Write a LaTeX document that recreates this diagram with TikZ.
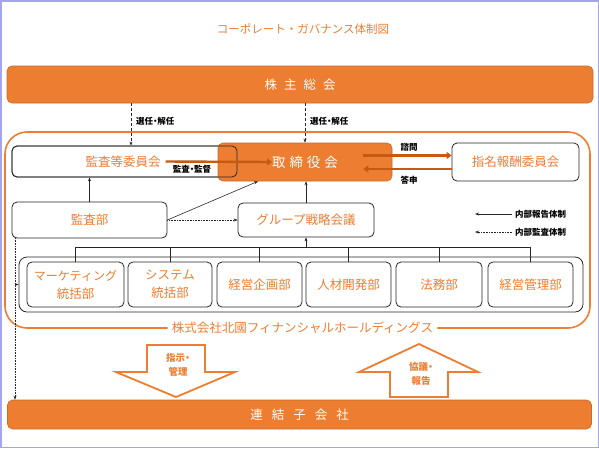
\documentclass[tikz,border=0pt]{standalone}
\usepackage{fontspec}
\newfontfamily\jp{Noto Sans CJK JP}
\newfontfamily\jpp[RawFeature=+palt]{Noto Sans CJK JP}
\usetikzlibrary{arrows.meta,calc}
\definecolor{og}{HTML}{ED7D31}
\definecolor{dog}{HTML}{C55A11}
\definecolor{frm}{RGB}{165,165,235}
\tikzset{
  wbox/.style={draw=black!85,line width=0.8pt,rounded corners=5pt,fill=white,text=og,
    font=\jp\fontsize{12.5}{18}\selectfont,inner sep=0pt,align=center},
  obar/.style={fill=og,draw=og!85!black,line width=0.6pt,rounded corners=5pt,text=white,inner sep=0pt},
  sml/.style={font=\jpp\bfseries\fontsize{8.5}{10}\selectfont,text=black,inner sep=0pt},
  rep/.style={draw=black!85,line width=0.6pt,-{Stealth[length=4pt,width=3pt]}},
  aud/.style={draw=black!85,line width=0.6pt,densely dotted,-{Stealth[length=4pt,width=3pt]}},
  sel/.style={draw=black!85,line width=0.6pt,densely dashed,-{Stealth[length=4pt,width=3pt]}},
  thk/.style={draw=dog,line width=2.4pt,-{Triangle[length=5pt,width=7pt]}},
  bigarr/.style={draw=og,line width=1.8pt,fill=white,line join=miter},
  btxt/.style={font=\jpp\bfseries\fontsize{9.5}{14}\selectfont,text=og,align=center,inner sep=0pt}
}
\begin{document}
\begin{tikzpicture}[x=1pt,y=-1pt]
\useasboundingbox (0,0) rectangle (599,448);
\draw[frm,line width=1.5pt] (0.75,0.75) rectangle (598.25,447.25);

\node[text=og,font=\jp\fontsize{11.5}{14}\selectfont] (title) at (303,29) {コーポレート・ガバナンス体制図};

\node[obar,minimum width=586pt,minimum height=37pt,font=\jp\fontsize{12.5}{15}\selectfont] (kabu) at (300,84.5)
  {株\hspace{7pt}主\hspace{7pt}総\hspace{7pt}会};

% holdings frame
\node[text=og,font=\jp\fontsize{12.5}{15}\selectfont,inner sep=4pt] (hd) at (302.5,328) {株式会社北國フィナンシャルホールディングス};
\draw[og,line width=1.6pt,rounded corners=22pt] (hd.west) -- (5,328) -- (5,132) -- (590,132) -- (590,328) -- (hd.east);

% board level
\node[wbox,minimum width=225pt,minimum height=31pt] (kiin) at (124.5,161.5) {};
\node[obar,minimum width=174pt,minimum height=38pt,font=\jp\fontsize{13.5}{15}\selectfont] (tori) at (305,162)
  {取\hspace{4pt}締\hspace{4pt}役\hspace{4pt}会};
\node[wbox,fill=none,minimum width=225pt,minimum height=31pt] (kiin2) at (124.5,161.5) {};
\node[text=og,font=\jp\fontsize{12.5}{15}\selectfont,inner sep=0pt] (kiintxt) at (123,161.5) {監査等委員会};
\node[wbox,minimum width=127pt,minimum height=38pt] (shimei) at (515.5,162) {指名報酬委員会};

\node[wbox,minimum width=155pt,minimum height=36pt] (kbu) at (89.5,220) {監査部};
\node[wbox,minimum width=136pt,minimum height=34pt] (grp) at (306,220) {グループ戦略会議};

% departments
\node[draw=black!85,line width=0.8pt,rounded corners=8pt,minimum width=564pt,minimum height=55pt,inner sep=0pt] (cont) at (301,284.5) {};
\node[wbox,minimum width=97pt,minimum height=45pt] (d1) at (75.5,284.5) {{\fontsize{12}{18}\selectfont マーケティング}\\統括部};
\node[wbox,minimum width=84pt,minimum height=45pt] (d2) at (170,284.5) {システム\\統括部};
\node[wbox,minimum width=85pt,minimum height=45pt] (d3) at (259.5,284.5) {経営企画部};
\node[wbox,minimum width=85pt,minimum height=45pt] (d4) at (348.5,284.5) {人材開発部};
\node[wbox,minimum width=86pt,minimum height=45pt] (d5) at (439,284.5) {法務部};
\node[wbox,minimum width=85pt,minimum height=45pt] (d6) at (530.5,284.5) {経営管理部};

\coordinate (bus) at (306,247);
\draw[draw=black!85,line width=0.6pt] (d1.north) -- (d1.north |- bus) -- (d6.north |- bus) -- (d6.north);
\foreach \d in {d2,d3,d4,d5}{\draw[draw=black!85,line width=0.6pt] (\d.north |- bus) -- (\d.north);}
\draw[rep] (bus) -- (grp.south);

\node[obar,minimum width=584pt,minimum height=29pt,font=\jp\fontsize{12.5}{15}\selectfont] (ren) at (299.5,414.5)
  {連\hspace{9pt}結\hspace{9pt}子\hspace{9pt}会\hspace{9pt}社};

% selection arrows
\draw[sel] (131,0 |- kabu.south) -- (131,0 |- kiin.north);
\node[sml,anchor=west] (sel1) at (136,121) {選任・解任};
\draw[sel] (tori.north |- kabu.south) -- (tori.north);
\node[sml,anchor=west] (sel2) at (310,121) {選任・解任};

% thick arrows
\draw[thk] ([xshift=41pt]kiin.center) -- ([xshift=-33pt]tori.center);
\node[sml] (kk) at (192,169) {監査・監督};
\draw[thk] ([xshift=-29pt,yshift=6.5pt]tori.east) -- ([yshift=6.5pt]shimei.west);
\draw[thk] ([yshift=-7pt]shimei.west) -- ([xshift=-29pt,yshift=-7pt]tori.east);
\node[sml] (shimon) at (409,147) {諮問};
\node[sml] (toshin) at (409,180) {答申};

% reporting
\draw[rep] (kbu.north) -- (kbu.north |- kiin.south);
\draw[rep] (kbu.east) -- ([xshift=-47pt]tori.south);
\draw[aud] (kbu.east) -- (grp.west);
\draw[rep] (grp.north) -- (grp.north |- tori.south);

% left audit line
\coordinate (la) at (15,238);
\coordinate (lb) at (15,284.5);
\draw[aud] (la) -- (la |- ren.north);
\draw[aud] (lb) -- (cont.west);

% legend
\coordinate (l1) at (512,214);
\coordinate (l2) at (512,232);
\draw[rep] (l1) -- ++(-37,0);
\draw[aud] (l2) -- ++(-37,0);
\node[sml,anchor=west] (lt1) at (515,214) {内部報告体制};
\node[sml,anchor=west] (lt2) at (515,232) {内部監査体制};

% big arrows
\draw[bigarr] (147,345) -- (205,345) -- (205,372) -- (235,372) -- (176,397) -- (116,372) -- (147,372) -- cycle;
\node[btxt] (shiji) at (178,365) {指示・\\管理};
\draw[bigarr] (390,397) -- (390,372) -- (359,372) -- (419,344) -- (478,372) -- (448,372) -- (448,397) -- cycle;
\node[btxt] (kyogi) at (421,374) {協議・\\報告};
\end{tikzpicture}
\end{document}
